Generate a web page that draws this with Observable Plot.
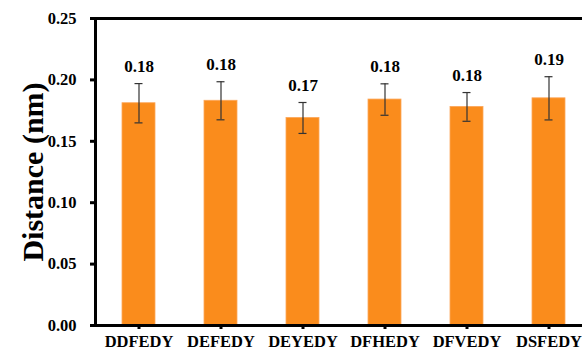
<!DOCTYPE html>
<html><head><meta charset="utf-8">
<script src="https://cdn.jsdelivr.net/npm/d3@7"></script>
<script src="https://cdn.jsdelivr.net/npm/@observablehq/plot@0.6"></script>
<style>html,body{margin:0;padding:0;overflow:hidden;background:#fff}</style>
</head><body><div id="chart"></div>
<script>
const categories = ["DDFEDY","DEFEDY","DEYEDY","DFHEDY","DFVEDY","DSFEDY"];
const distances = [0.181,0.183,0.169,0.184,0.178,0.185];
const errors = [0.016,0.0155,0.0126,0.0128,0.0117,0.0176];
const valueLabels = ["0.18","0.18","0.17","0.18","0.18","0.19"];
const yTicks = [0,0.05,0.10,0.15,0.20,0.25];
const data = categories.map((c,i)=>({c, v:distances[i], e:errors[i], label:valueLabels[i]}));
const font = "'Liberation Serif', 'Times New Roman', serif";
const plot = Plot.plot({
  width:582, height:353, marginLeft:95, marginRight:-9, marginTop:18, marginBottom:28,
  style:{fontFamily:font, fontWeight:"bold", background:"#fff", color:"#000", overflow:"hidden"},
  x:{domain:categories, paddingInner:0.6, paddingOuter:0.3, label:null},
  y:{domain:[0,0.25], label:null},
  marks:[
    Plot.barY(data,{x:"c", y:"v", fill:"#fa8c1c", stroke:"#fca75a", strokeWidth:0.8}),
    Plot.ruleX(data,{x:"c", y1:d=>d.v-d.e, y2:d=>d.v+d.e, stroke:"#333", strokeWidth:1.2}),
    Plot.tickY(data,{x:"c", y:d=>d.v+d.e, insetLeft:12.5, insetRight:12.5, stroke:"#333", strokeWidth:1.2}),
    Plot.tickY(data,{x:"c", y:d=>d.v-d.e, insetLeft:12.5, insetRight:12.5, stroke:"#333", strokeWidth:1.2}),
    Plot.text(data,{x:"c", y:d=>d.v+d.e, text:"label", dy:-17, fontSize:17, fontWeight:"bold", fill:"#000"}),
    Plot.axisY({ticks:yTicks, tickFormat:d3.format(".2f"), tickSize:5, strokeWidth:3, fontSize:16.5, tickPadding:14, label:null, style:{letterSpacing:"0.5px"}}),
    Plot.axisX({tickSize:4, strokeWidth:3, fontSize:16.5, tickPadding:6, label:null, style:{letterSpacing:"1px"}}),
    Plot.frame({strokeWidth:3}),
    Plot.text(["Distance (nm)"],{frameAnchor:"left", dx:-62, rotate:-90, textAnchor:"middle", fontSize:30, fontWeight:"bold", fill:"#000"})
  ]
});
document.getElementById("chart").appendChild(plot);
</script>
</body></html>
